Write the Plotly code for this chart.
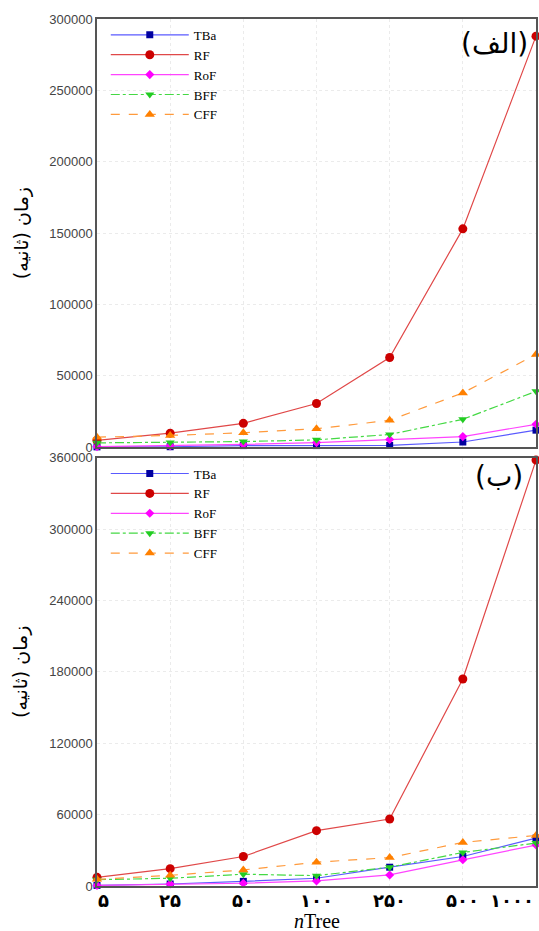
import plotly.graph_objects as go

n_tree = ['۵', '۲۵', '۵۰', '۱۰۰', '۲۵۰', '۵۰۰', '۱۰۰۰']

# Panel (الف)
a_tba = [300, 400, 1200, 1200, 1300, 3700, 12000]
a_rf = [4800, 9900, 16800, 30700, 62900, 153000, 288000]
a_rof = [500, 1000, 2000, 3300, 5500, 7500, 16100]
a_bff = [3100, 3300, 4000, 5200, 9000, 19600, 39200]
a_cff = [7100, 8300, 10200, 13000, 18900, 38100, 65000]

# Panel (ب)
b_tba = [500, 1700, 3900, 6500, 15800, 24800, 40300]
b_rf = [7300, 14600, 24800, 46500, 56300, 174000, 358000]
b_rof = [500, 1700, 2300, 4300, 9300, 22000, 34400]
b_bff = [5300, 6500, 9900, 8700, 15800, 28200, 36100]
b_cff = [5600, 9000, 13500, 20000, 23900, 36600, 42500]

series_names = ['TBa', 'RF', 'RoF', 'BFF', 'CFF']
line_colors = ['#5a5aff', '#e04848', '#ff44ff', '#44d944', '#ff9a3c']
marker_colors = ['#0000a0', '#cc0000', '#ff00ff', '#22cc22', '#ff8000']
symbols = ['square', 'circle', 'diamond', 'triangle-down', 'triangle-up']
sizes = [7, 9, 7, 8, 9]
dashes = ['solid', 'solid', 'solid', 'dashdot', 'dash']

fig = go.Figure()

panels = [
    ([a_tba, a_rf, a_rof, a_bff, a_cff], 'x', 'y', 'legend'),
    ([b_tba, b_rf, b_rof, b_bff, b_cff], 'x2', 'y2', 'legend2'),
]
for vals, xa, ya, lg in panels:
    for i, name in enumerate(series_names):
        fig.add_trace(go.Scatter(
            x=n_tree, y=vals[i], name=name, mode='lines+markers',
            xaxis=xa, yaxis=ya, legend=lg, cliponaxis=False,
            line=dict(color=line_colors[i], width=1.2, dash=dashes[i]),
            marker=dict(color=marker_colors[i], symbol=symbols[i], size=sizes[i],
                        line=dict(width=0)),
        ))

top_dom = [0.506, 1.0]
bot_dom = [0.0, 0.494]

axis_common = dict(showline=True, linecolor='#555', linewidth=1.5, mirror=True,
                   showgrid=True, gridcolor='#ebebeb', griddash='dot', gridwidth=1,
                   zeroline=False, automargin=False)

ytick_font = dict(family='Liberation Sans, Arial', size=13, color='#444')

annotations = []
# x tick labels of the lower panel (the last one is pulled inside the page)
for i, lab in enumerate(n_tree):
    anchor = 'right' if i == len(n_tree) - 1 else 'center'
    xs = 6 if i == 0 else 0
    annotations.append(dict(text=lab, xref='x2', yref='paper', x=lab, y=0,
                            xanchor=anchor, yanchor='top', yshift=-2, xshift=xs,
                            showarrow=False,
                            font=dict(family='DejaVu Sans', size=18, color='black',
                                      weight='bold')))
annotations += [
    dict(text='<i>n</i>Tree', xref='paper', yref='paper', x=0.5, y=0,
         xanchor='center', yanchor='top', yshift=-22, showarrow=False,
         font=dict(family='Liberation Serif', size=20, color='black')),
    dict(text='(الف)', xref='paper', yref='paper', x=0.905, y=0.972,
         xanchor='center', yanchor='middle', showarrow=False,
         font=dict(family='DejaVu Sans', size=28, color='black')),
    dict(text='(ب)', xref='paper', yref='paper', x=0.915, y=0.472,
         xanchor='center', yanchor='middle', showarrow=False,
         font=dict(family='DejaVu Sans', size=28, color='black')),
    dict(text='زمان (ثانیه)', xref='paper', yref='paper', x=-0.173,
         y=(top_dom[0] + top_dom[1]) / 2, textangle=-90,
         xanchor='center', yanchor='middle', showarrow=False,
         font=dict(family='DejaVu Sans', size=19, color='black')),
    dict(text='زمان (ثانیه)', xref='paper', yref='paper', x=-0.173,
         y=(bot_dom[0] + bot_dom[1]) / 2, textangle=-90,
         xanchor='center', yanchor='middle', showarrow=False,
         font=dict(family='DejaVu Sans', size=19, color='black')),
]

legend_common = dict(x=0.02, xanchor='left', yanchor='top',
                     bgcolor='rgba(255,255,255,0)', itemwidth=78,
                     font=dict(family='Liberation Serif', size=13, color='black'),
                     tracegroupgap=0)

fig.update_layout(
    width=539, height=931,
    margin=dict(l=97, r=3, t=19, b=45),
    paper_bgcolor='white', plot_bgcolor='white',
    showlegend=True,
    xaxis=dict(type='category', range=[0, 6], domain=[0, 1], anchor='y',
               showticklabels=False, ticks='', **axis_common),
    yaxis=dict(range=[0, 300000], dtick=50000, domain=top_dom, anchor='x',
               tickformat='d', ticks='', tickfont=ytick_font, **axis_common),
    xaxis2=dict(type='category', range=[0, 6], domain=[0, 1], anchor='y2',
                showticklabels=False, ticks='', **axis_common),
    yaxis2=dict(range=[0, 360000], dtick=60000, domain=bot_dom, anchor='x2',
                tickformat='d', ticks='', tickfont=ytick_font, **axis_common),
    legend=dict(y=top_dom[1] - 0.001, **legend_common),
    legend2=dict(y=bot_dom[1] - 0.001, **legend_common),
    annotations=annotations,
)

fig.write_html('out.html', config={'displayModeBar': False},
               post_script="document.body.style.margin='0';")
